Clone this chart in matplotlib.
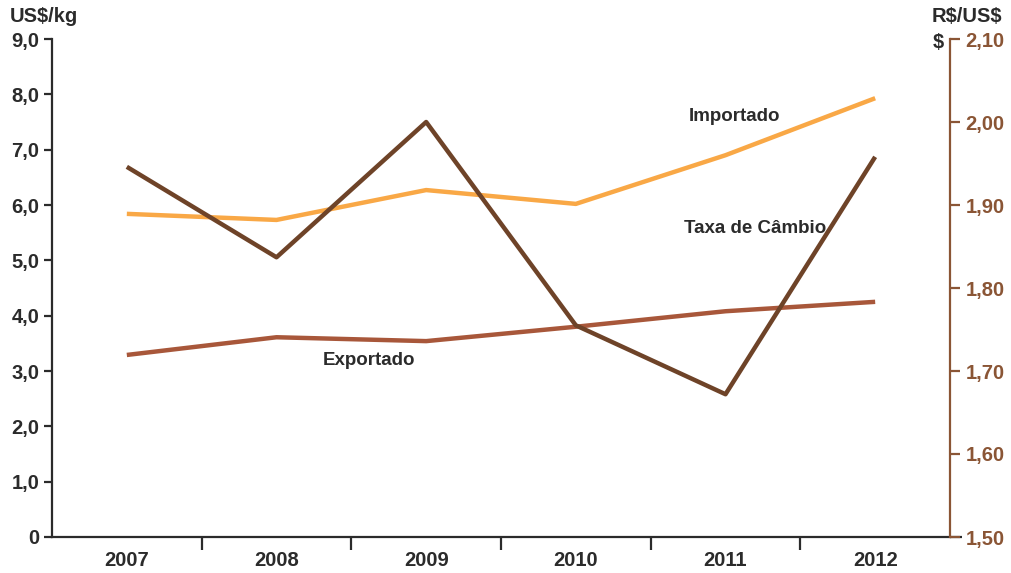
import matplotlib
matplotlib.use("Agg")
import matplotlib.pyplot as plt

plt.rcParams['font.family'] = ['Liberation Sans', 'DejaVu Sans']

anos = ['2007', '2008', '2009', '2010', '2011', '2012']
importado = [5.84, 5.73, 6.27, 6.02, 6.90, 7.93]
exportado = [3.29, 3.61, 3.54, 3.80, 4.08, 4.25]
cambio = [1.946, 1.837, 2.000, 1.755, 1.672, 1.958]

left_ticks = [0, 1, 2, 3, 4, 5, 6, 7, 8, 9]
left_labels = ['0', '1,0', '2,0', '3,0', '4,0', '5,0', '6,0', '7,0', '8,0', '9,0']
right_ticks = [1.5, 1.6, 1.7, 1.8, 1.9, 2.0, 2.1]
right_labels = ['1,50', '1,60', '1,70', '1,80', '1,90', '2,00', '2,10']

c_imp = '#F9A846'
c_exp = '#A8573A'
c_cam = '#6E4328'
c_axis_r = '#8A5535'
c_txt = '#2b2b2b'

fig = plt.figure(figsize=(10.11, 5.73), dpi=100)
ax = fig.add_axes([52 / 1011, 36 / 573, 898 / 1011, 498 / 573])
ax2 = ax.twinx()

x = list(range(len(anos)))
ax.plot(x, importado, color=c_imp, lw=3.2, solid_capstyle='butt')
ax.plot(x, exportado, color=c_exp, lw=3.2, solid_capstyle='butt')
ax2.plot(x, cambio, color=c_cam, lw=3.2, solid_capstyle='butt')

ax.set_xlim(-0.5, 5.5)
ax.set_ylim(0, 9)
ax2.set_ylim(1.5, 2.1)

for a in (ax, ax2):
    a.spines['top'].set_visible(False)
ax.spines['right'].set_visible(False)
ax2.spines['left'].set_visible(False)
ax2.spines['bottom'].set_visible(False)
ax.spines['left'].set_linewidth(1.6)
ax.spines['left'].set_color(c_txt)
ax.spines['bottom'].set_linewidth(1.6)
ax.spines['bottom'].set_color(c_txt)
ax2.spines['right'].set_linewidth(1.6)
ax2.spines['right'].set_color(c_axis_r)

ax.set_yticks(left_ticks)
ax.set_yticklabels(left_labels)
ax.tick_params(axis='y', length=6, width=1.6, color=c_txt, labelsize=14.5,
               labelcolor=c_txt, pad=3)

ax.set_xticks([i + 0.5 for i in range(5)])
ax.set_xticklabels([])
ax.set_xticks(x, minor=True)
ax.set_xticklabels(anos, minor=True)
ax.tick_params(axis='x', which='major', length=9, width=1.6, color=c_txt)
ax.tick_params(axis='x', which='minor', length=0, labelsize=14.5,
               labelcolor=c_txt, pad=10)

ax2.set_yticks(right_ticks)
ax2.set_yticklabels(right_labels)
ax2.tick_params(axis='y', length=7, width=1.6, color=c_axis_r, labelsize=14.5,
                labelcolor=c_axis_r, pad=4)

# bottom line continues past the right axis
ax.plot([5.5, 5.58], [0, 0], color=c_txt, lw=1.6, clip_on=False,
        solid_capstyle='butt')

for lbl in ax.get_xticklabels(minor=True) + ax.get_yticklabels() + ax2.get_yticklabels():
    lbl.set_fontweight('bold')

fig.text(10 / 1011, 1 - 16 / 573, 'US\\$/kg', fontsize=14.5, fontweight='bold',
         color=c_txt, va='center', ha='left')
fig.text(967 / 1011, 1 - 16 / 573, 'R\\$/US\\$', fontsize=14.5, fontweight='bold',
         color=c_txt, va='center', ha='center')
fig.text(938 / 1011, 1 - 42 / 573, '\\$', fontsize=14.5, fontweight='bold',
         color=c_txt, va='center', ha='center')

ax.text(4.06, 7.6, 'Importado', fontsize=13.5, fontweight='bold', color=c_txt,
        ha='center', va='center')
ax.text(4.2, 5.58, 'Taxa de Câmbio', fontsize=13.5, fontweight='bold',
        color=c_txt, ha='center', va='center')
ax.text(1.62, 3.19, 'Exportado', fontsize=13.5, fontweight='bold', color=c_txt,
        ha='center', va='center')

fig.savefig('out.png', dpi=100)
